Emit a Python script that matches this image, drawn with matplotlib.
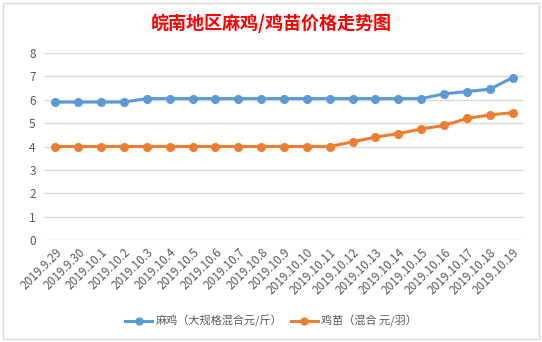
import matplotlib.pyplot as plt
from matplotlib.patches import Rectangle

plt.rcParams['font.family'] = ['Noto Sans CJK SC', 'DejaVu Sans']

dates = ['2019.9.29', '2019.9.30', '2019.10.1', '2019.10.2', '2019.10.3', '2019.10.4',
         '2019.10.5', '2019.10.6', '2019.10.7', '2019.10.8', '2019.10.9', '2019.10.10',
         '2019.10.11', '2019.10.12', '2019.10.13', '2019.10.14', '2019.10.15', '2019.10.16',
         '2019.10.17', '2019.10.18', '2019.10.19']
maji = [5.9, 5.9, 5.9, 5.9, 6.05, 6.05, 6.05, 6.05, 6.05, 6.05, 6.05, 6.05,
        6.05, 6.05, 6.05, 6.05, 6.05, 6.25, 6.35, 6.45, 6.95]
jimiao = [4.0, 4.0, 4.0, 4.0, 4.0, 4.0, 4.0, 4.0, 4.0, 4.0, 4.0, 4.0,
          4.0, 4.2, 4.4, 4.55, 4.75, 4.9, 5.2, 5.35, 5.45]
yticks = [0, 1, 2, 3, 4, 5, 6, 7, 8]

W, H = 542, 342
fig = plt.figure(figsize=(W / 100, H / 100), dpi=100)
fig.patches.append(Rectangle((3 / W, 3 / H), 536 / W, 336 / H, transform=fig.transFigure,
                             fill=False, edgecolor='#D9D9D9', linewidth=1))

ax = fig.add_axes([44 / W, 102 / H, 480 / W, 187 / H])
x = list(range(len(dates)))
ax.plot(x, maji, color='#5B9BD5', linewidth=2.2, marker='o', markersize=5.5,
        label='麻鸡（大规格混合元/斤）')
ax.plot(x, jimiao, color='#ED7D31', linewidth=2.2, marker='o', markersize=5.5,
        label='鸡苗（混合 元/羽）')

ax.set_xlim(-0.5, len(dates) - 0.5)
ax.set_ylim(0, 8)
ax.set_yticks(yticks)
ax.set_xticks(x)
ax.set_xticklabels(dates, rotation=45, ha='right', rotation_mode='anchor')
ax.tick_params(length=0, labelsize=8.5, colors='#595959', pad=6)
ax.tick_params(axis='x', pad=4)
ax.grid(axis='y', color='#D9D9D9', linewidth=1)
ax.set_axisbelow(True)
for s in ax.spines.values():
    s.set_visible(False)

fig.text(0.5, 1 - 23 / H, '皖南地区麻鸡/鸡苗价格走势图', color='#FF0000', fontsize=13,
         fontweight='bold', ha='center', va='center')

fig.legend(loc='center', bbox_to_anchor=(0.5, 1 - 321 / H), ncol=2, frameon=False,
           fontsize=8, labelcolor='#595959', handlelength=2.4, columnspacing=0.8,
           handletextpad=0.3, markerscale=0.9)

fig.savefig('out.png', dpi=100)
